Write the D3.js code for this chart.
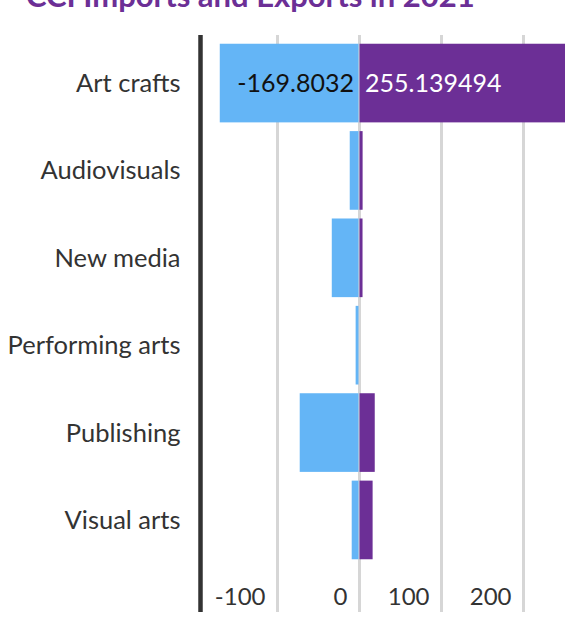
<!DOCTYPE html>
<html>
<head>
<meta charset="utf-8">
<script src="https://cdn.jsdelivr.net/npm/d3@7"></script>
<style>
  body { margin: 0; overflow: hidden; background: #fff; }
  svg { font-family: Lato, "Open Sans", sans-serif; }
</style>
</head>
<body>
<svg id="chart" width="565" height="621"></svg>
<script>
// data (only Art crafts is labelled)
const title     = "CCI Imports and Exports in 2021";
const sectors   = ["Art crafts", "Audiovisuals", "New media", "Performing arts", "Publishing", "Visual arts"];
const imports   = [-169.8032, -11.3, -33.2, -4.1, -72.3, -8.9];
const exports   = [255.139494, 4.4, 4.3, 0.2, 19.2, 16.6];
const tickVals  = [-100, 0, 100, 200];

let colourImport = "#64b5f6";
let colourExport = "#6c2f96";
let colourGrid   = "#d6d6d6";
let colourText   = "#333";

let svg = d3.select("#chart");

let plotTop = 35, plotBottom = 612, bandBottom = 568;

let x = d3.scaleLinear()
  .domain([-200, 300])
  .range([195, 605]);

let y = d3.scaleBand()
  .domain(sectors)
  .range([plotTop, bandBottom])
  .paddingInner(0.1)
  .paddingOuter(0.1);

// title (partly off the top edge, as in the original)
svg.append("text")
  .attr("x", 26)
  .attr("y", 7)
  .attr("fill", colourExport)
  .style("font-weight", "bold")
  .style("font-size", "31px")
  .text(title);

// grid + tick labels
let gx = svg.append("g")
  .attr("transform", `translate(0,${plotBottom})`)
  .call(d3.axisBottom(x).tickValues(tickVals).tickSize(-(plotBottom - plotTop)).tickFormat(d => String(d)));
gx.select(".domain").remove();
gx.selectAll(".tick line")
  .attr("stroke", colourGrid)
  .attr("stroke-width", 3);
gx.selectAll(".tick text")
  .attr("x", -12)
  .attr("y", -7)
  .attr("dy", 0)
  .attr("text-anchor", "end")
  .attr("fill", colourText)
  .style("font-size", "24px")
  .style("font-family", "Lato, 'Open Sans', sans-serif");

let rows = sectors.map((s, i) => ({ name: s, imp: imports[i], exp: exports[i] }));

// imports (negative, left of zero)
svg.selectAll(".imp")
  .data(rows)
  .enter().append("rect")
    .attr("class", "imp")
    .attr("x", d => x(d.imp))
    .attr("y", d => y(d.name))
    .attr("width", d => x(0) - x(d.imp) - 0.5)
    .attr("height", y.bandwidth())
    .attr("fill", colourImport);

// exports (positive, right of zero)
svg.selectAll(".exp")
  .data(rows)
  .enter().append("rect")
    .attr("class", "exp")
    .attr("x", x(0) + 0.5)
    .attr("y", d => y(d.name))
    .attr("width", d => Math.max(0, x(d.exp) - x(0) - 0.5))
    .attr("height", y.bandwidth())
    .attr("fill", colourExport);

// value labels, only where the bar has room
svg.selectAll(".impLabel")
  .data(rows.filter(d => x(0) - x(d.imp) > 120))
  .enter().append("text")
    .attr("x", x(0) - 5)
    .attr("y", d => y(d.name) + y.bandwidth() / 2 + 9)
    .attr("text-anchor", "end")
    .attr("fill", "#111")
    .style("font-size", "25px")
    .text(d => d.imp);
svg.selectAll(".expLabel")
  .data(rows.filter(d => x(d.exp) - x(0) > 120))
  .enter().append("text")
    .attr("x", x(0) + 6)
    .attr("y", d => y(d.name) + y.bandwidth() / 2 + 9)
    .attr("fill", "#fff")
    .style("font-size", "25px")
    .text(d => d.exp);

// category labels
let gy = svg.append("g")
  .attr("transform", "translate(200.5,0)")
  .call(d3.axisLeft(y).tickSize(0).tickPadding(20));
gy.select(".domain").remove();
gy.selectAll(".tick text")
  .attr("fill", colourText)
  .attr("dy", 9)
  .style("font-size", "25.5px")
  .style("font-family", "Lato, 'Open Sans', sans-serif");

// dark left axis line
svg.append("line")
  .attr("x1", 200.5).attr("x2", 200.5)
  .attr("y1", plotTop).attr("y2", plotBottom)
  .attr("stroke", colourText)
  .attr("stroke-width", 4.5);
</script>
</body>
</html>
